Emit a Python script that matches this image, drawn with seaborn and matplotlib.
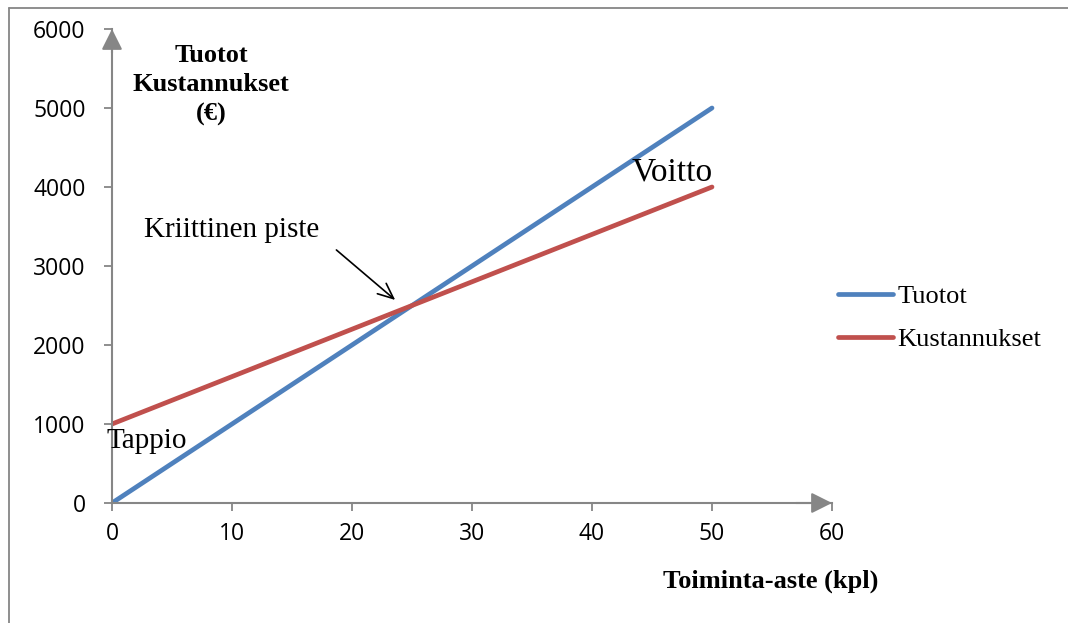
import matplotlib
matplotlib.use("Agg")
import matplotlib.pyplot as plt
from matplotlib.lines import Line2D
import seaborn as sns
import pandas as pd

# ---- data ----
toiminta_aste = [0, 10, 20, 30, 40, 50]
tuotot = [0, 1000, 2000, 3000, 4000, 5000]
kustannukset = [1000, 1600, 2200, 2800, 3400, 4000]
series_names = ["Tuotot", "Kustannukset"]
x_ticks = [0, 10, 20, 30, 40, 50, 60]
y_ticks = [0, 1000, 2000, 3000, 4000, 5000, 6000]

df = pd.DataFrame({
    "x": toiminta_aste * 2,
    "y": tuotot + kustannukset,
    "sarja": [series_names[0]] * len(toiminta_aste) + [series_names[1]] * len(toiminta_aste),
})

sns.set_theme(style="white")
plt.rcParams["font.family"] = ["Open Sans", "DejaVu Sans"]
plt.rcParams["text.color"] = "black"

GRAY = "#868686"
SERIF = "Liberation Serif"

fig = plt.figure(figsize=(10.68, 6.23), dpi=100)
ax = fig.add_axes([112 / 1068, 1 - 503 / 623, (832 - 112) / 1068, (503 - 29) / 623])

sns.lineplot(data=df, x="x", y="y", hue="sarja", hue_order=series_names,
             palette=["#4F81BD", "#C0504D"], linewidth=3.4, ax=ax,
             solid_capstyle="round", legend=True)

ax.set_xlim(0, 60)
ax.set_ylim(0, 6000)
ax.set_xticks(x_ticks)
ax.set_yticks(y_ticks)
ax.set_xlabel("")
ax.set_ylabel("")
for s in ["top", "right"]:
    ax.spines[s].set_visible(False)
for s in ["left", "bottom"]:
    ax.spines[s].set_color(GRAY)
    ax.spines[s].set_linewidth(1.5)
ax.tick_params(axis="both", direction="out", length=6, width=1.3, color=GRAY,
               labelsize=16.5, labelcolor="black")
ax.tick_params(axis="y", pad=13)
ax.tick_params(axis="x", pad=8)
ax.tick_params(left=True, bottom=True)

# axis arrows
ax.annotate("", xy=(0, 1.0), xytext=(0, 0.95), xycoords="axes fraction",
            arrowprops=dict(arrowstyle="-|>,head_length=0.7,head_width=0.35",
                            color=GRAY, lw=1.5, mutation_scale=18, shrinkA=0, shrinkB=0),
            annotation_clip=False)
ax.annotate("", xy=(1.0, 0), xytext=(0.95, 0), xycoords="axes fraction",
            arrowprops=dict(arrowstyle="-|>,head_length=0.7,head_width=0.35",
                            color=GRAY, lw=1.5, mutation_scale=18, shrinkA=0, shrinkB=0),
            annotation_clip=False)

# legend
leg = ax.legend(title=None, loc="center left", bbox_to_anchor=(838 / 1068, 1 - 318 / 623),
                bbox_transform=fig.transFigure, frameon=False,
                prop={"family": SERIF, "size": 19}, handlelength=2.1,
                handletextpad=0.15, labelspacing=0.75, borderaxespad=0, borderpad=0)
for h in leg.get_lines():
    h.set_linewidth(3.4)
    h.set_solid_capstyle("round")

# texts
fig.text(211 / 1068, 1 - 85 / 623, "Tuotot\nKustannukset\n(€)", ha="center", va="center",
         family=SERIF, fontweight="bold", fontsize=19, linespacing=1.35)
fig.text(771 / 1068, 1 - 581 / 623, "Toiminta-aste (kpl)", ha="center", va="center",
         family=SERIF, fontweight="bold", fontsize=19)
ax.text(46.67, 4190, "Voitto", ha="center", va="center", family=SERIF, fontsize=24)
ax.text(10.0, 3456, "Kriittinen piste", ha="center", va="center", family=SERIF, fontsize=21)
ax.text(-0.45, 785, "Tappio", ha="left", va="center", family=SERIF, fontsize=21, clip_on=False)
ax.annotate("", xy=(23.6, 2570), xytext=(18.7, 3203),
            arrowprops=dict(arrowstyle="->,head_length=0.8,head_width=0.35", color="black",
                            lw=1.2, mutation_scale=14, shrinkA=0, shrinkB=0))

# figure border (top and left)
fig.add_artist(Line2D([9 / 1068, 9 / 1068], [0, 1 - 8 / 623], transform=fig.transFigure,
                      color=GRAY, lw=1.3))
fig.add_artist(Line2D([9 / 1068, 1], [1 - 8 / 623, 1 - 8 / 623], transform=fig.transFigure,
                      color=GRAY, lw=1.3))

fig.savefig("out.png", dpi=100)
